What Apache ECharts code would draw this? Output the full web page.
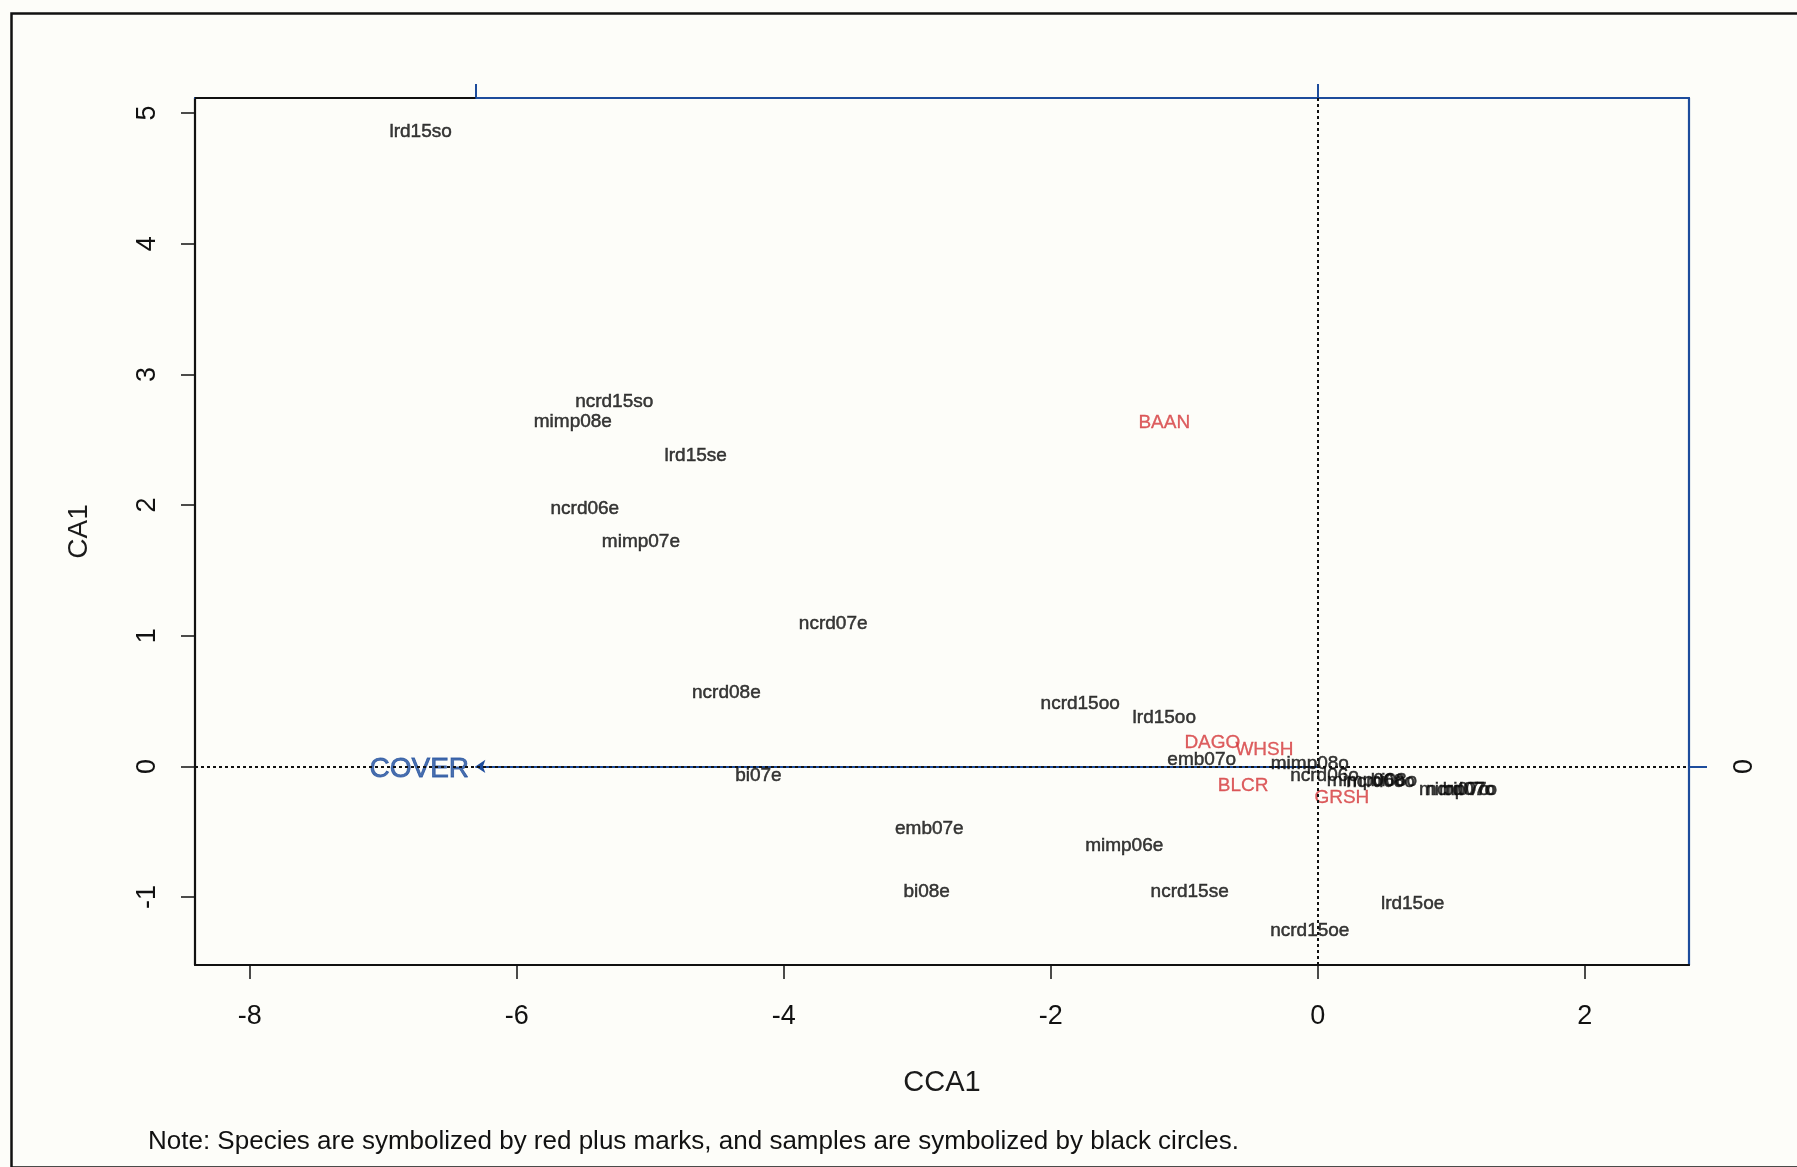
<!DOCTYPE html>
<html>
<head>
<meta charset="utf-8">
<script src="https://cdn.jsdelivr.net/npm/echarts@6/dist/echarts.min.js"></script>
<style>
html,body{margin:0;padding:0;background:#fdfdf9;}
#chart{width:1797px;height:1167px;}
</style>
</head>
<body>
<div id="chart"></div>
<script>
// ---- data ----
const sampleNames = ['lrd15so','ncrd15so','mimp08e','lrd15se','ncrd06e','mimp07e','ncrd07e','ncrd08e',
  'ncrd15oo','lrd15oo','emb07o','bi07e','emb07e','mimp06e','bi08e','ncrd15se','ncrd15oe','lrd15oe',
  'mimp08o','ncrd06o','mimp06o','ncrd08o','bi08o','mimp07o','ncrd07o','bi07o'];
const sampleX = [-6.72,-5.27,-5.58,-4.66,-5.49,-5.07,-3.63,-4.43,
  -1.78,-1.15,-0.87,-4.19,-2.91,-1.45,-2.93,-0.96,-0.06,0.71,
  -0.06,0.05,0.36,0.47,0.57,1.05,1.07,1.11];
const sampleY = [4.86,2.79,2.64,2.38,1.97,1.72,1.09,0.56,
  0.48,0.37,0.05,-0.07,-0.48,-0.61,-0.96,-0.96,-1.26,-1.05,
  0.02,-0.07,-0.11,-0.12,-0.11,-0.18,-0.18,-0.18];

const speciesNames = ['BAAN','DAGO','WHSH','BLCR','GRSH'];
const speciesX = [-1.15,-0.79,-0.40,-0.56,0.18];
const speciesY = [2.63,0.18,0.13,-0.15,-0.24];

const envNames = ['COVER'];
const envX = [-6.31];
const envY = [0];
const envLabelX = [-6.73];
const envLabelY = [-0.02];

const xTicks = [-8,-6,-4,-2,0,2];
const yTicks = [-1,0,1,2,3,4,5];
const topTicks = [-6.31,0];
const rightTicks = [0];

const xMin = -8.41, xMax = 2.78, yMin = -1.52, yMax = 5.115;

// ---- chart ----
const FONT = '"Liberation Sans", Arial, sans-serif';
const BLUE = '#1d4c9c';
const RED = '#d4373a';
const chart = echarts.init(document.getElementById('chart'));

function labelPoints(names, xs, ys) {
  return names.map((n, i) => ({ name: n, value: [xs[i], ys[i]] }));
}

const option = {
  backgroundColor: '#fdfdf9',
  animation: false,
  grid: { left: 195, right: 108, top: 98, bottom: 202, containLabel: false },
  xAxis: [
    {
      type: 'value', min: xMin, max: xMax, position: 'bottom',
      name: 'CCA1', nameLocation: 'middle', nameGap: 103,
      nameTextStyle: { fontFamily: FONT, fontSize: 29, color: '#1a1a1a' },
      axisLine: { show: true, onZero: false, lineStyle: { color: '#111', width: 2.2 } },
      axisTick: { show: true, customValues: xTicks, length: 14, inside: false, lineStyle: { color: '#111', width: 1.5 } },
      axisLabel: { customValues: xTicks, margin: 38, fontFamily: FONT, fontSize: 27, color: '#111' },
      splitLine: { show: false }
    },
    {
      type: 'value', min: xMin, max: xMax, position: 'top',
      axisLine: { show: true, onZero: false, lineStyle: { color: BLUE, width: 2.2 } },
      axisTick: { show: true, customValues: topTicks, length: 14, lineStyle: { color: BLUE, width: 2 } },
      axisLabel: { show: false },
      splitLine: { show: false }
    }
  ],
  yAxis: [
    {
      type: 'value', min: yMin, max: yMax, position: 'left',
      name: 'CA1', nameLocation: 'middle', nameGap: 102, nameRotate: 90,
      nameTextStyle: { fontFamily: FONT, fontSize: 28, color: '#1a1a1a' },
      axisLine: { show: true, onZero: false, lineStyle: { color: '#111', width: 2.2 } },
      axisTick: { show: true, customValues: yTicks, length: 14, lineStyle: { color: '#111', width: 1.5 } },
      axisLabel: { customValues: yTicks, rotate: 90, margin: 34, fontFamily: FONT, fontSize: 27, color: '#111' },
      splitLine: { show: false }
    },
    {
      type: 'value', min: yMin, max: yMax, position: 'right',
      axisLine: { show: true, onZero: false, lineStyle: { color: BLUE, width: 2.2 } },
      axisTick: { show: true, customValues: rightTicks, length: 18, lineStyle: { color: BLUE, width: 2 } },
      axisLabel: { customValues: rightTicks, rotate: 90, margin: 42, fontFamily: FONT, fontSize: 27, color: '#111' },
      splitLine: { show: false }
    }
  ],
  graphic: [
    { type: 'rect', left: 9, top: 11, shape: { width: 1800, height: 1154 }, style: { fill: 'none', stroke: '#111', lineWidth: 2.5 }, silent: true, z: 100 },
    { type: 'text', left: 148, top: 1129, style: { text: 'Note: Species are symbolized by red plus marks, and samples are symbolized by black circles.', font: '26px "Liberation Sans", Arial, sans-serif', fill: '#111' } }
  ],
  series: [
    {
      type: 'line', data: [], xAxisIndex: 0, yAxisIndex: 0, silent: true,
      markLine: {
        silent: true, symbol: 'none', label: { show: false },
        lineStyle: { color: '#111', width: 2, type: [3, 3] },
        data: [{ xAxis: 0 }, { yAxis: 0 }]
      }
    },
    {
      type: 'line', xAxisIndex: 0, yAxisIndex: 0, silent: true, clip: false, symbol: 'none',
      lineStyle: { color: '#111', width: 2.2 },
      data: [[xMin, yMax], [topTicks[0], yMax]]
    },
    {
      type: 'lines', coordinateSystem: 'cartesian2d', xAxisIndex: 0, yAxisIndex: 0, silent: true,
      symbol: ['none', 'arrow'], symbolSize: 10,
      lineStyle: { color: BLUE, width: 2.2, opacity: 1 },
      data: envNames.map((n, i) => ({ coords: [[0, 0], [envX[i], envY[i]]] }))
    },
    {
      type: 'scatter', xAxisIndex: 0, yAxisIndex: 0, silent: true,
      symbolSize: 1, itemStyle: { color: 'rgba(0,0,0,0)' },
      label: { show: true, position: 'inside', formatter: p => p.name, fontFamily: FONT, fontSize: 28, color: BLUE,
        textBorderColor: BLUE, textBorderWidth: 0.8 },
      data: labelPoints(envNames, envLabelX, envLabelY)
    },
    {
      type: 'scatter', xAxisIndex: 0, yAxisIndex: 0, silent: true,
      symbolSize: 1, itemStyle: { color: 'rgba(0,0,0,0)' },
      label: { show: true, position: 'inside', formatter: p => p.name, fontFamily: FONT, fontSize: 19, color: '#0a0a0a',
        textBorderColor: '#0a0a0a', textBorderWidth: 0.5 },
      labelLayout: { hideOverlap: false },
      data: labelPoints(sampleNames, sampleX, sampleY)
    },
    {
      type: 'scatter', xAxisIndex: 0, yAxisIndex: 0, silent: true,
      symbolSize: 1, itemStyle: { color: 'rgba(0,0,0,0)' },
      label: { show: true, position: 'inside', formatter: p => p.name, fontFamily: FONT, fontSize: 19, color: RED,
        textBorderColor: RED, textBorderWidth: 0.3 },
      labelLayout: { hideOverlap: false },
      data: labelPoints(speciesNames, speciesX, speciesY)
    }
  ]
};
chart.setOption(option);
</script>
</body>
</html>
